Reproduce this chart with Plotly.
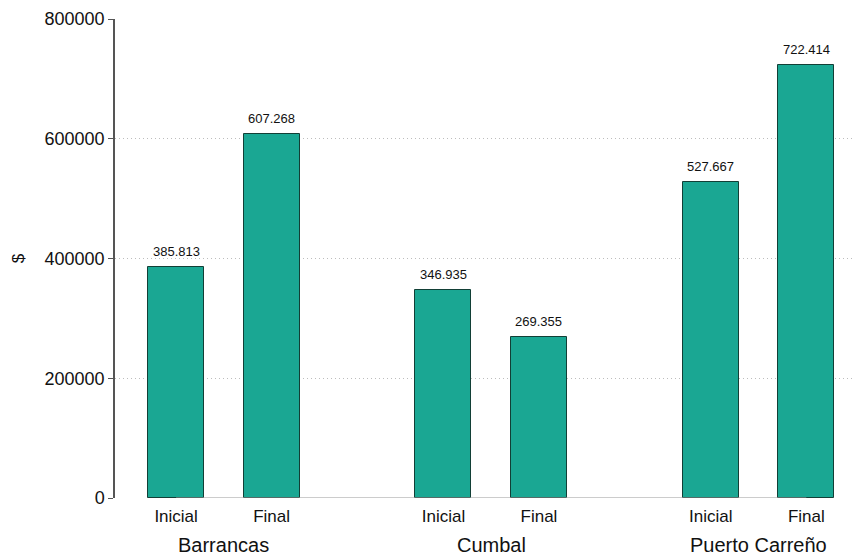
import plotly.graph_objects as go

groups = ["Barrancas", "Cumbal", "Puerto Carreño"]
stages = ["Inicial", "Final"]
values = [385813, 607268, 346935, 269355, 527667, 722414]
y_ticks = [0, 200000, 400000, 600000, 800000]

GAP = 2.8
pos = []
tick_text = []
for g in range(len(groups)):
    for i, s in enumerate(stages):
        pos.append(g * GAP + i)
        tick_text.append(s)

font = "Liberation Sans, Arial, sans-serif"
fig = go.Figure()
fig.add_trace(go.Bar(
    x=pos, y=values, width=0.586,
    marker=dict(color="#1aa793", line=dict(color="#123f36", width=1)),
))

for x, v in zip(pos, values):
    fig.add_annotation(x=x, y=v, xref="x", yref="y",
                       text=f"{v:,}".replace(",", "."), showarrow=False,
                       yanchor="bottom", yshift=6,
                       font=dict(size=13, color="#111", family=font))

fig.add_shape(type="line", xref="x", yref="y", x0=pos[0], x1=pos[-1], y0=0, y1=0,
              line=dict(color="#999", width=1), layer="above")

for g, name in enumerate(groups):
    fig.add_annotation(x=g * GAP + 0.5, xref="x", y=-0.099, yref="paper",
                       text=name, showarrow=False, yanchor="middle", borderpad=0,
                       font=dict(size=20, color="#111", family=font))

fig.update_layout(
    width=857, height=556,
    margin=dict(l=115, r=2, t=19, b=58),
    plot_bgcolor="white", paper_bgcolor="white",
    showlegend=False,
    font=dict(family=font, color="#111"),
    bargap=0,
)
fig.update_xaxes(range=[-0.64, 7.11], tickvals=pos, ticktext=tick_text,
                 showgrid=False, zeroline=False, showline=False, ticks="",
                 ticklabelstandoff=6,
                 tickfont=dict(size=17, color="#111"), automargin=False)
fig.update_yaxes(range=[0, 800000], tickvals=y_ticks, tickformat="d",
                 showgrid=True, gridcolor="#bdbdbd", griddash="1px,3px", gridwidth=1,
                 zeroline=False, showline=True, linecolor="#555", linewidth=1.5,
                 ticks="outside", ticklen=5, tickcolor="#555",
                 tickfont=dict(size=18, color="#111"), automargin=False,
                 title=dict(text="$", font=dict(size=17, color="#111"), standoff=16))

fig.write_html("out.html", config={"displayModeBar": False},
               post_script="document.body.style.margin='0';")
